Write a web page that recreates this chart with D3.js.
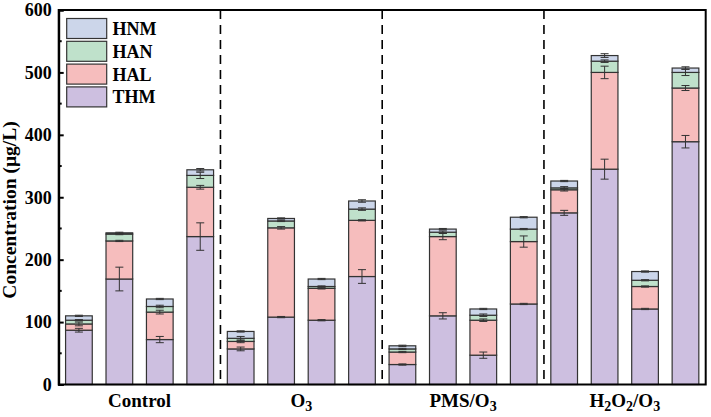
<!DOCTYPE html>
<html><head><meta charset="utf-8">
<script src="https://cdn.jsdelivr.net/npm/d3@7"></script>
<style>body{margin:0;background:#fff}svg{display:block}text{font-family:"Liberation Serif","Times New Roman",serif;font-weight:bold;fill:#000}</style>
</head><body><svg id="c" width="711" height="417"></svg>
<script>
const groups = ["Control","O3","PMS/O3","H2O2/O3"];
const series = ["THM","HAL","HAN","HNM"];
const THM = [87,169,72,237, 57,108,103,173, 32,110,47,129, 275,345,121,389];
const HAL = [10,61,44,79, 12,143,51,90, 20,127,56,100, 37,155,36,86];
const HAN = [6,11,9,19, 5,11,3,18, 5,7,8,20, 3,18,10,25];
const HNM = [7,2,12,9, 11,4,12,13, 5,5,10,19, 11,9,14,7];
const THM_err = [3,19,5,22, 3,1,1,11, 1,5,5,1, 4,16,1,10];
const HAL_err = [3,1,3,3, 2,2,1,1, 1,5,2,9, 2,10,1,4];
const HAN_err = [1,1,2,5, 3,1,1,2, 1,2,2,1, 2,2,1,5];
const HNM_err = [1,1,1,2, 1,1,1,2, 1,1,1,1, 1,3,1,2];
const yTicks = [0,100,200,300,400,500,600];
const colors = {THM:"#cdbfe0", HAL:"#f6bdbd", HAN:"#bfe1cb", HNM:"#ccd6ea"};

const vals = {THM, HAL, HAN, HNM};
const errs = {THM:THM_err, HAL:HAL_err, HAN:HAN_err, HNM:HNM_err};
const svg = d3.select("#c");
const L=58.7, R=705.7, T=10, B=384.5;
const idx = d3.range(THM.length);
const x = d3.scaleBand().domain(idx).range([L,R]).paddingInner(0.34).paddingOuter(0.17);
const y = d3.scaleLinear().domain([0,600]).range([B,T]);
const table = idx.map(i => { const o={i}; series.forEach(s=>o[s]=vals[s][i]); return o; });
const stack = d3.stack().keys(series)(table);

// dashed separators
const bandW = (R-L)/idx.length;
[1,2,3].forEach(g=>{
  const xx = L + g*4*bandW;
  svg.append("line").attr("x1",xx).attr("x2",xx).attr("y1",T).attr("y2",B)
    .attr("stroke","#000").attr("stroke-width",1.6).attr("stroke-dasharray","9,6");
});

// bars
stack.forEach(layer=>{
  svg.append("g").selectAll("rect").data(layer).join("rect")
    .attr("x",d=>x(d.data.i)).attr("width",x.bandwidth())
    .attr("y",d=>y(d[1])).attr("height",d=>y(d[0])-y(d[1]))
    .attr("fill",colors[layer.key]).attr("stroke","#333").attr("stroke-width",1.2);
});
// error bars
stack.forEach(layer=>{
  const e = errs[layer.key];
  const g = svg.append("g").attr("stroke","#333").attr("stroke-width",1);
  layer.forEach(d=>{
    const cx = x(d.data.i)+x.bandwidth()/2, top=d[1], er=e[d.data.i];
    g.append("line").attr("x1",cx).attr("x2",cx).attr("y1",y(top-er)).attr("y2",y(top+er));
    [top-er,top+er].forEach(v=>g.append("line").attr("x1",cx-4).attr("x2",cx+4).attr("y1",y(v)).attr("y2",y(v)));
  });
});

// frame
svg.append("rect").attr("x",L).attr("y",T).attr("width",R-L).attr("height",B-T)
  .attr("fill","none").attr("stroke","#000").attr("stroke-width",2);

// y axis
const yAxis = d3.axisLeft(y).tickValues(yTicks).tickSize(-5).tickPadding(7);
const ya = svg.append("g").attr("transform",`translate(${L},0)`).call(yAxis);
ya.select(".domain").attr("stroke-width",2);
ya.selectAll(".tick line").attr("stroke-width",2);
ya.selectAll("text").style("font-size","18px").style("font-family","Liberation Serif").style("font-weight","bold");
d3.range(50,600,100).forEach(v=>svg.append("line").attr("x1",L).attr("x2",L+3).attr("y1",y(v)).attr("y2",y(v)).attr("stroke","#000").attr("stroke-width",2));

svg.append("text").attr("transform",`translate(15.5,210) rotate(-90)`).attr("text-anchor","middle")
  .style("font-size","19.5px").text("Concentration (μg/L)");

// x group labels
const labelParts = {"Control":[["Control",0]],"O3":[["O",0],["3",1]],"PMS/O3":[["PMS/O",0],["3",1]],"H2O2/O3":[["H",0],["2",1],["O",0],["2",1],["/O",0],["3",1]]};
groups.forEach((gname,g)=>{
  const cx = L + (g*4+2)*bandW;
  const t = svg.append("text").attr("x",cx).attr("y",407).attr("text-anchor","middle").style("font-size","19px");
  labelParts[gname].forEach(([s,sub])=>{
    const ts = t.append("tspan").text(s);
    if(sub) ts.attr("dy",4).style("font-size","14px");
    else ts.attr("dy", t.selectAll("tspan").size()>1 ? -4 : 0);
  });
});

// legend
const leg = ["HNM","HAN","HAL","THM"];
leg.forEach((s,k)=>{
  const yy = 18.5 + k*22.8;
  svg.append("rect").attr("x",66.7).attr("y",yy).attr("width",40).attr("height",20)
    .attr("fill",colors[s]).attr("stroke","#333").attr("stroke-width",1.2);
  svg.append("text").attr("x",112.5).attr("y",yy+16.5).style("font-size","18px").text(s);
});
</script></body></html>
